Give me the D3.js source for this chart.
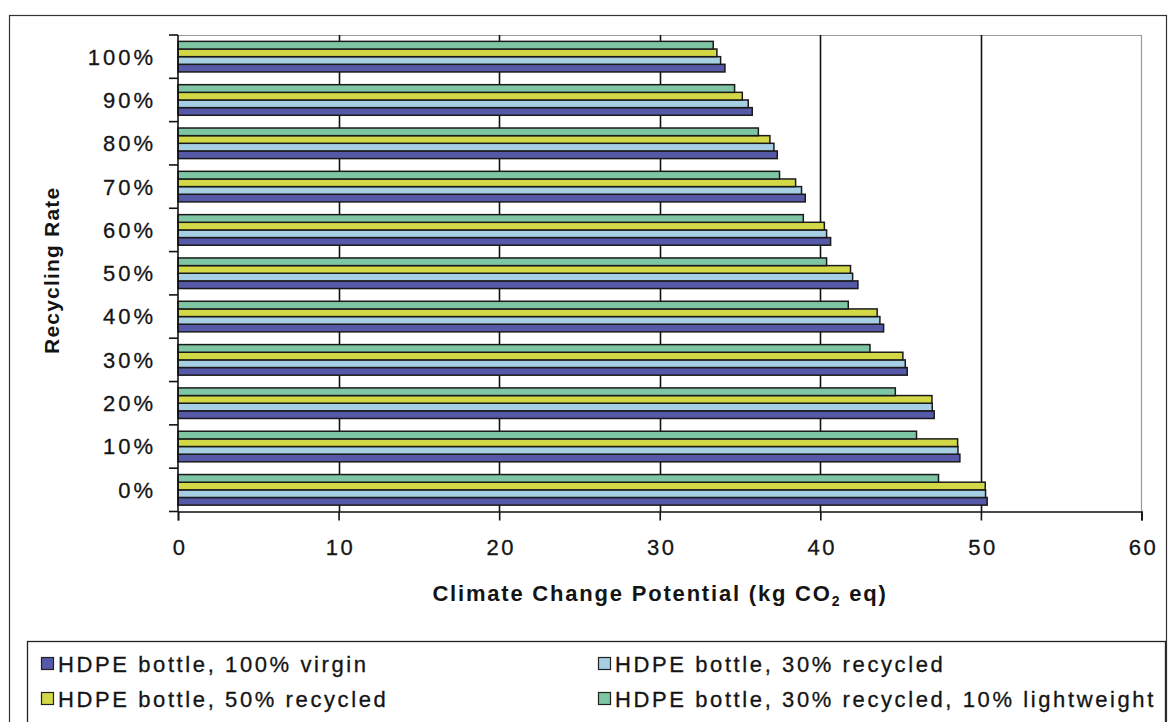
<!DOCTYPE html>
<html>
<head>
<meta charset="utf-8">
<script src="https://cdn.jsdelivr.net/npm/d3@7"></script>
<style>
  html, body { margin: 0; padding: 0; background: #fff; }
  svg { display: block; font-family: "Liberation Sans", Arial, sans-serif; }
  .lbl { stroke: #141414; stroke-width: 0.3px; }
</style>
</head>
<body>
<svg id="chart" width="1168" height="722"></svg>
<script>
// Recycling rates (categories, bottom to top)
const rates = ["0%", "10%", "20%", "30%", "40%", "50%", "60%", "70%", "80%", "90%", "100%"];

// Climate change potential, kg CO2 eq, per recycling rate
const virgin100   = [50.39, 48.69, 47.09, 45.41, 43.94, 42.34, 40.64, 39.06, 37.32, 35.76, 34.06];
const recycled30  = [50.29, 48.57, 46.97, 45.29, 43.71, 42.01, 40.39, 38.83, 37.11, 35.51, 33.79];
const recycled50  = [50.27, 48.55, 46.95, 45.14, 43.54, 41.88, 40.25, 38.46, 36.86, 35.14, 33.56];
const lightweight = [47.36, 45.99, 44.67, 43.09, 41.74, 40.39, 38.94, 37.46, 36.14, 34.66, 33.33];

const seriesNames = [
  "HDPE bottle, 100% virgin",
  "HDPE bottle, 30% recycled",
  "HDPE bottle, 50% recycled",
  "HDPE bottle, 30% recycled, 10% lightweight"
];
const seriesValues = [virgin100, recycled30, recycled50, lightweight];
const seriesColors = ["#5658a8", "#a6cfe4", "#d3d846", "#7ec5a4"];

const xTicks = [0, 10, 20, 30, 40, 50, 60];

const svg = d3.select("#chart");
const ink = "#141414";

// outer frame
svg.append("rect")
  .attr("x", 9.5).attr("y", 15.5)
  .attr("width", 1157).attr("height", 740)
  .attr("fill", "none").attr("stroke", "#333").attr("stroke-width", 1.2);

const plot = { left: 178, right: 1141.5, top: 35, bottom: 511.5 };

const x = d3.scaleLinear().domain([0, 60]).range([plot.left, plot.right]);
const y = d3.scaleBand()
  .domain(rates.slice().reverse())
  .range([plot.top, plot.bottom])
  .paddingInner(0.294)
  .paddingOuter(0.147);
// order of bars within a group, top to bottom
const inner = d3.scaleBand()
  .domain([3, 2, 1, 0])
  .range([0, y.bandwidth()]);

// plot area border (top and right)
svg.append("line")
  .attr("x1", plot.left).attr("x2", plot.right)
  .attr("y1", plot.top + 0.5).attr("y2", plot.top + 0.5)
  .attr("stroke", "#9a9a9a").attr("stroke-width", 1.2);
svg.append("line")
  .attr("x1", plot.right).attr("x2", plot.right)
  .attr("y1", plot.top).attr("y2", plot.bottom)
  .attr("stroke", "#9a9a9a").attr("stroke-width", 1.2);

// vertical gridlines
svg.append("g")
  .selectAll("line")
  .data(xTicks.filter(d => d > 0 && d < 60))
  .join("line")
  .attr("x1", d => Math.round(x(d)) + 0.5).attr("x2", d => Math.round(x(d)) + 0.5)
  .attr("y1", plot.top).attr("y2", plot.bottom)
  .attr("stroke", "#111").attr("stroke-width", 1.6);

// bars
const rows = [];
rates.forEach((r, i) => {
  seriesValues.forEach((vals, s) => rows.push({ rate: r, s, v: vals[i] }));
});
svg.append("g")
  .selectAll("rect")
  .data(rows)
  .join("rect")
  .attr("x", x(0))
  .attr("y", d => y(d.rate) + inner(d.s))
  .attr("width", d => x(d.v) - x(0))
  .attr("height", inner.bandwidth())
  .attr("fill", d => seriesColors[d.s])
  .attr("stroke", "#1a1a1a")
  .attr("stroke-width", 1.5);

// x axis
const xAxis = svg.append("g")
  .attr("transform", `translate(0,${plot.bottom})`)
  .call(d3.axisBottom(x).tickValues(xTicks).tickSize(9).tickPadding(19));
xAxis.select(".domain").attr("stroke", "#111").attr("stroke-width", 1.6);
xAxis.selectAll(".tick line").attr("stroke", "#111").attr("stroke-width", 1.6);
xAxis.selectAll(".tick text")
  .attr("class", "lbl")
  .attr("font-size", 22).attr("fill", ink)
  .attr("font-family", "Liberation Sans, Arial, sans-serif")
  .attr("dx", "1.5px")
  .style("letter-spacing", "2.5px");

// y axis: ticks sit on category boundaries
const yAxisG = svg.append("g").attr("transform", `translate(${plot.left},0)`);
yAxisG.append("line")
  .attr("x1", 0).attr("x2", 0)
  .attr("y1", plot.top).attr("y2", plot.bottom)
  .attr("stroke", "#111").attr("stroke-width", 1.6);
const boundaries = d3.range(rates.length + 1).map(i => plot.top + i * y.step());
yAxisG.selectAll("line.tk")
  .data(boundaries)
  .join("line").attr("class", "tk")
  .attr("x1", -9).attr("x2", 0)
  .attr("y1", d => d).attr("y2", d => d)
  .attr("stroke", "#111").attr("stroke-width", 1.6);
yAxisG.selectAll("text")
  .data(rates)
  .join("text")
  .attr("class", "lbl")
  .attr("x", -22)
  .attr("y", d => y(d) + y.bandwidth() / 2)
  .attr("dy", "0.36em")
  .attr("text-anchor", "end")
  .attr("font-size", 22)
  .attr("fill", ink)
  .style("letter-spacing", "3px")
  .text(d => d);

// axis titles
svg.append("text")
  .attr("transform", `translate(59,${(plot.top + plot.bottom) / 2 - 3}) rotate(-90)`)
  .attr("text-anchor", "middle")
  .attr("font-size", 21).attr("font-weight", "bold").attr("fill", ink)
  .style("letter-spacing", "1.2px")
  .text("Recycling Rate");

const xt = svg.append("text")
  .attr("x", 660)
  .attr("y", 601)
  .attr("text-anchor", "middle")
  .attr("font-size", 22).attr("font-weight", "bold").attr("fill", ink)
  .style("letter-spacing", "1.8px");
xt.append("tspan").text("Climate Change Potential (kg CO");
xt.append("tspan").attr("font-size", 14).attr("dy", 5).text("2");
xt.append("tspan").attr("dy", -5).text(" eq)");

// legend
const legend = svg.append("g");
legend.append("rect")
  .attr("x", 27.5).attr("y", 641.5)
  .attr("width", 1138).attr("height", 120)
  .attr("fill", "#fff").attr("stroke", "#222").attr("stroke-width", 1.3);

const legendItems = [
  { s: 0, col: 0, row: 0 },
  { s: 1, col: 1, row: 0 },
  { s: 2, col: 0, row: 1 },
  { s: 3, col: 1, row: 1 }
];
const colX = [41, 598];
const rowY = [664, 699];
const li = legend.selectAll("g.item")
  .data(legendItems)
  .join("g").attr("class", "item")
  .attr("transform", d => `translate(${colX[d.col]},${rowY[d.row]})`);
li.append("rect")
  .attr("x", 0.5).attr("y", -6.5)
  .attr("width", 12).attr("height", 12)
  .attr("fill", d => seriesColors[d.s])
  .attr("stroke", "#222").attr("stroke-width", 1.2);
li.append("text")
  .attr("class", "lbl")
  .attr("x", 17).attr("dy", "0.36em")
  .attr("font-size", 22).attr("fill", ink)
  .style("letter-spacing", "2.6px")
  .text(d => seriesNames[d.s]);
</script>
</body>
</html>
